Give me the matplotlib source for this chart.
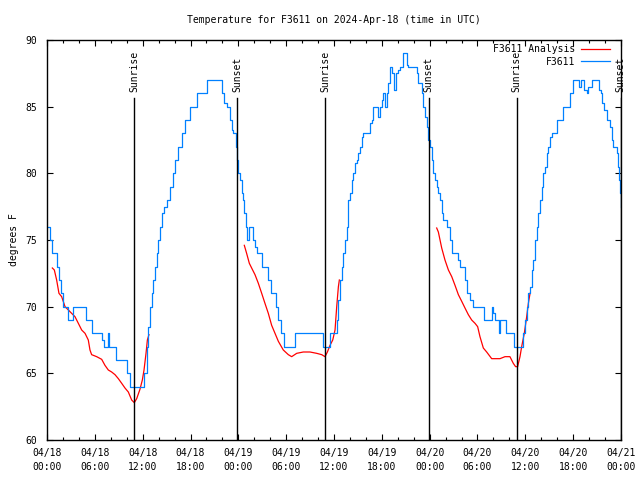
#!/usr/bin/env python3
"""Temperature trace for F3611, gnuplot-like look, rebuilt in matplotlib."""
import matplotlib
matplotlib.use("Agg")
import matplotlib.pyplot as plt
import numpy as np

# hours since 2024-04-18 00:00 UTC, observed temperature (step changes)
obs_hours = [
    0.17, 0.38, 0.59, 1.21, 1.51, 1.71, 2.05, 2.68, 3.30, 4.85, 5.60, 6.86,
    7.19, 7.60, 7.75, 8.61, 9.99, 10.45, 12.21, 12.50, 12.71, 12.90, 13.13,
    13.35, 13.55, 13.76, 13.97, 14.18, 14.39, 14.70, 15.00, 15.43, 15.75,
    16.06, 16.47, 16.89, 17.31, 17.94, 18.78, 20.03, 21.91, 22.25, 22.54,
    22.95, 23.17, 23.37, 23.71, 23.79, 24.00, 24.21, 24.42, 24.62, 24.75,
    24.96, 25.13, 25.38, 25.88, 26.09, 26.30, 26.93, 27.76, 28.10, 28.73,
    29.01, 29.31, 29.77, 31.15, 34.66, 35.50, 36.00, 36.34, 36.55, 36.75,
    36.97, 37.17, 37.38, 37.59, 37.80, 38.01, 38.22, 38.42, 38.63, 38.85,
    39.05, 39.26, 39.48, 39.68, 40.52, 40.73, 40.93, 41.48, 41.77, 41.98,
    42.19, 42.40, 42.61, 42.81, 43.03, 43.24, 43.57, 43.74, 43.99, 44.28,
    44.70, 45.12, 45.32, 46.37, 46.58, 47.00, 47.20, 47.42, 47.63, 47.83,
    48.04, 48.26, 48.46, 48.67, 48.88, 49.09, 49.30, 49.51, 49.71, 50.14,
    50.55, 50.77, 51.59, 51.81, 52.43, 52.65, 53.06, 53.47, 54.86, 55.86,
    56.00, 56.20, 56.70, 56.80, 57.54, 58.60, 59.62, 59.75, 59.96, 60.17,
    60.38, 60.59, 60.80, 61.00, 61.21, 61.43, 61.63, 61.84, 62.05, 62.26,
    62.47, 62.68, 62.88, 63.10, 63.31, 63.94, 64.76, 65.60, 66.02, 66.77,
    66.98, 67.40, 67.70, 67.90, 68.32, 69.24, 69.49, 69.66, 69.91, 70.20,
    70.62, 70.84, 71.03, 71.46, 71.59, 71.75, 71.88, 71.96,
]
obs_temp = [
    76, 75, 74, 73, 72, 71, 70, 69, 70, 69, 68, 67.5,
    67, 68, 67, 66, 65, 64, 65, 67, 68.5, 70, 71,
    72, 73, 74, 75, 76, 77, 77.5, 78, 79, 80,
    81, 82, 83, 84, 85, 86, 87, 86, 85.25, 85,
    84, 83.25, 83, 82, 81, 80, 79.5, 78.5, 78, 77,
    76, 75, 76, 75, 74.5, 74, 73, 72, 71, 70,
    69, 68, 67, 68, 67, 68, 68, 69, 70.5, 72,
    73, 74, 75, 76, 78, 78.5, 79.5, 80, 80.75, 81,
    81.5, 82, 82.75, 83, 83.75, 84, 85, 84.25, 85, 85.5,
    86, 85, 86, 86.75, 88, 87.5, 86.25, 87.5, 87.75, 88,
    89, 88.1, 88, 87.5, 86.75, 86, 85, 84.25, 83.5, 82.5,
    82, 81, 80, 79.5, 79, 78.5, 78, 77, 76.5, 76,
    75, 74, 73.5, 73, 72, 71, 70.5, 70, 69, 70,
    69.5, 69, 68, 69, 68, 67, 67, 68, 69, 70,
    71, 71.5, 72.75, 73.5, 75, 76, 77, 78, 79, 80,
    80.5, 81.5, 82, 82.75, 83, 84, 85, 86, 87, 86.5,
    87, 86.25, 86, 86.5, 87, 86.25, 86, 85.25, 84.75, 84,
    83.5, 82.5, 82, 81.5, 80.5, 79.5, 78.5, 77.5,
]

# analysis curve, NaN separates the three runs
ana_hours = [
    0.67, 0.92, 1.21, 1.50, 1.84, 2.26, 2.68, 3.09, 3.51, 3.93, 4.35, 4.77,
    5.18, 5.39, 5.60, 6.23, 6.86, 7.27, 7.69, 8.11, 8.53, 8.95, 9.37, 9.78,
    10.20, 10.62, 10.95, 11.25, 11.66, 11.96, 12.17, 12.42, 12.59, 12.79,
    np.nan,
    24.75, 25.04, 25.38, 25.67, 26.09, 26.51, 26.93, 27.34, 27.76, 28.18,
    28.60, 29.02, 29.64, 30.27, 30.69, 31.32, 32.15, 32.99, 33.83, 34.46,
    34.87, 35.17, 35.50, 35.84, 36.13, 36.34, 36.55, 36.67,
    np.nan,
    48.88, 49.09, 49.30, 49.51, 49.92, 50.35, 50.77, 51.18, 51.60, 52.02,
    52.43, 52.85, 53.27, 53.69, 54.02, 54.31, 54.73, 55.15, 55.78, 56.82,
    57.45, 58.07, 58.49, 58.78, 59.03, 59.33, 59.54, 59.87, 60.17, 60.38,
    60.59,
]
ana_temp = [
    72.9, 72.75, 72.0, 71.0, 70.75, 70.0, 69.75, 69.5, 69.25, 68.75, 68.25, 68.0,
    67.5, 66.75, 66.4, 66.25, 66.05, 65.6, 65.25, 65.1, 64.9, 64.6, 64.25, 63.9,
    63.6, 63.0, 62.8, 63.1, 63.8, 64.5, 65.25, 66.5, 67.5, 67.9,
    np.nan,
    74.6, 74.0, 73.25, 72.9, 72.4, 71.75, 71.0, 70.25, 69.5, 68.6,
    68.0, 67.4, 66.75, 66.4, 66.25, 66.5, 66.6, 66.6, 66.5, 66.4,
    66.25, 66.6, 67.1, 67.5, 68.25, 70.0, 71.5, 72.0,
    np.nan,
    75.9, 75.6, 75.0, 74.4, 73.5, 72.75, 72.25, 71.6, 70.9, 70.4,
    69.9, 69.4, 69.0, 68.75, 68.5, 67.75, 66.9, 66.6, 66.1, 66.1,
    66.25, 66.25, 65.75, 65.5, 65.5, 66.25, 67.0, 68.0, 69.25, 70.25,
    71.0,
]

sun_hours = [10.90, 23.85, 34.88, 47.90, 58.92, 71.95]
sun_labels = ["Sunrise", "Sunset", "Sunrise", "Sunset", "Sunrise", "Sunset"]

tick_hours = list(range(0, 73, 6))
tick_labels = [
    "04/18\n00:00", "04/18\n06:00", "04/18\n12:00", "04/18\n18:00",
    "04/19\n00:00", "04/19\n06:00", "04/19\n12:00", "04/19\n18:00",
    "04/20\n00:00", "04/20\n06:00", "04/20\n12:00", "04/20\n18:00",
    "04/21\n00:00",
]

FONT = "DejaVu Sans Mono"
FS = 7
BLUE = "#0080ff"
RED = "#ff0000"


def main():
    plt.rcParams["font.family"] = FONT
    plt.rcParams["font.size"] = FS

    fig = plt.figure(figsize=(6.4, 4.8), dpi=100)
    ax = fig.add_axes([47 / 640, 40 / 480, 574 / 640, 400 / 480])

    ax.plot(ana_hours, ana_temp, color=RED, lw=0.9, label="F3611 Analysis")
    ax.plot(obs_hours, obs_temp, color=BLUE, lw=0.9, drawstyle="steps-post",
            label="F3611")

    for h, lab in zip(sun_hours, sun_labels):
        ax.plot([h, h], [60, 85.65], color="black", lw=1.0)
        ax.text(h, 86.1, lab, rotation=90, ha="center", va="bottom",
                fontsize=FS)

    ax.set_xlim(0, 72)
    ax.set_ylim(60, 90)
    ax.set_xticks(tick_hours)
    ax.set_xticklabels(tick_labels, linespacing=1.5)
    ax.set_xticks(range(0, 73, 2), minor=True)
    ax.set_yticks(range(60, 91, 5))
    ax.tick_params(which="both", direction="in", top=True, right=True,
                   width=0.8)
    ax.tick_params(which="major", length=4.3)
    ax.tick_params(which="minor", length=2.4)
    ax.tick_params(axis="x", pad=6)
    ax.tick_params(axis="y", pad=7)
    for s in ax.spines.values():
        s.set_linewidth(1.0)

    ax.set_ylabel("degrees F", labelpad=5)
    ax.set_title("Temperature for F3611 on 2024-Apr-18 (time in UTC)",
                 fontsize=FS, pad=12)

    ax.legend(loc="upper right", bbox_to_anchor=(1 - 8.3 / 574, 1 - 1.5 / 400),
              frameon=False, markerfirst=False,
              handlelength=3.0, handletextpad=0.6, borderaxespad=0.0,
              labelspacing=0.25, borderpad=0.3)

    fig.savefig("out.png", dpi=100)


if __name__ == "__main__":
    main()
